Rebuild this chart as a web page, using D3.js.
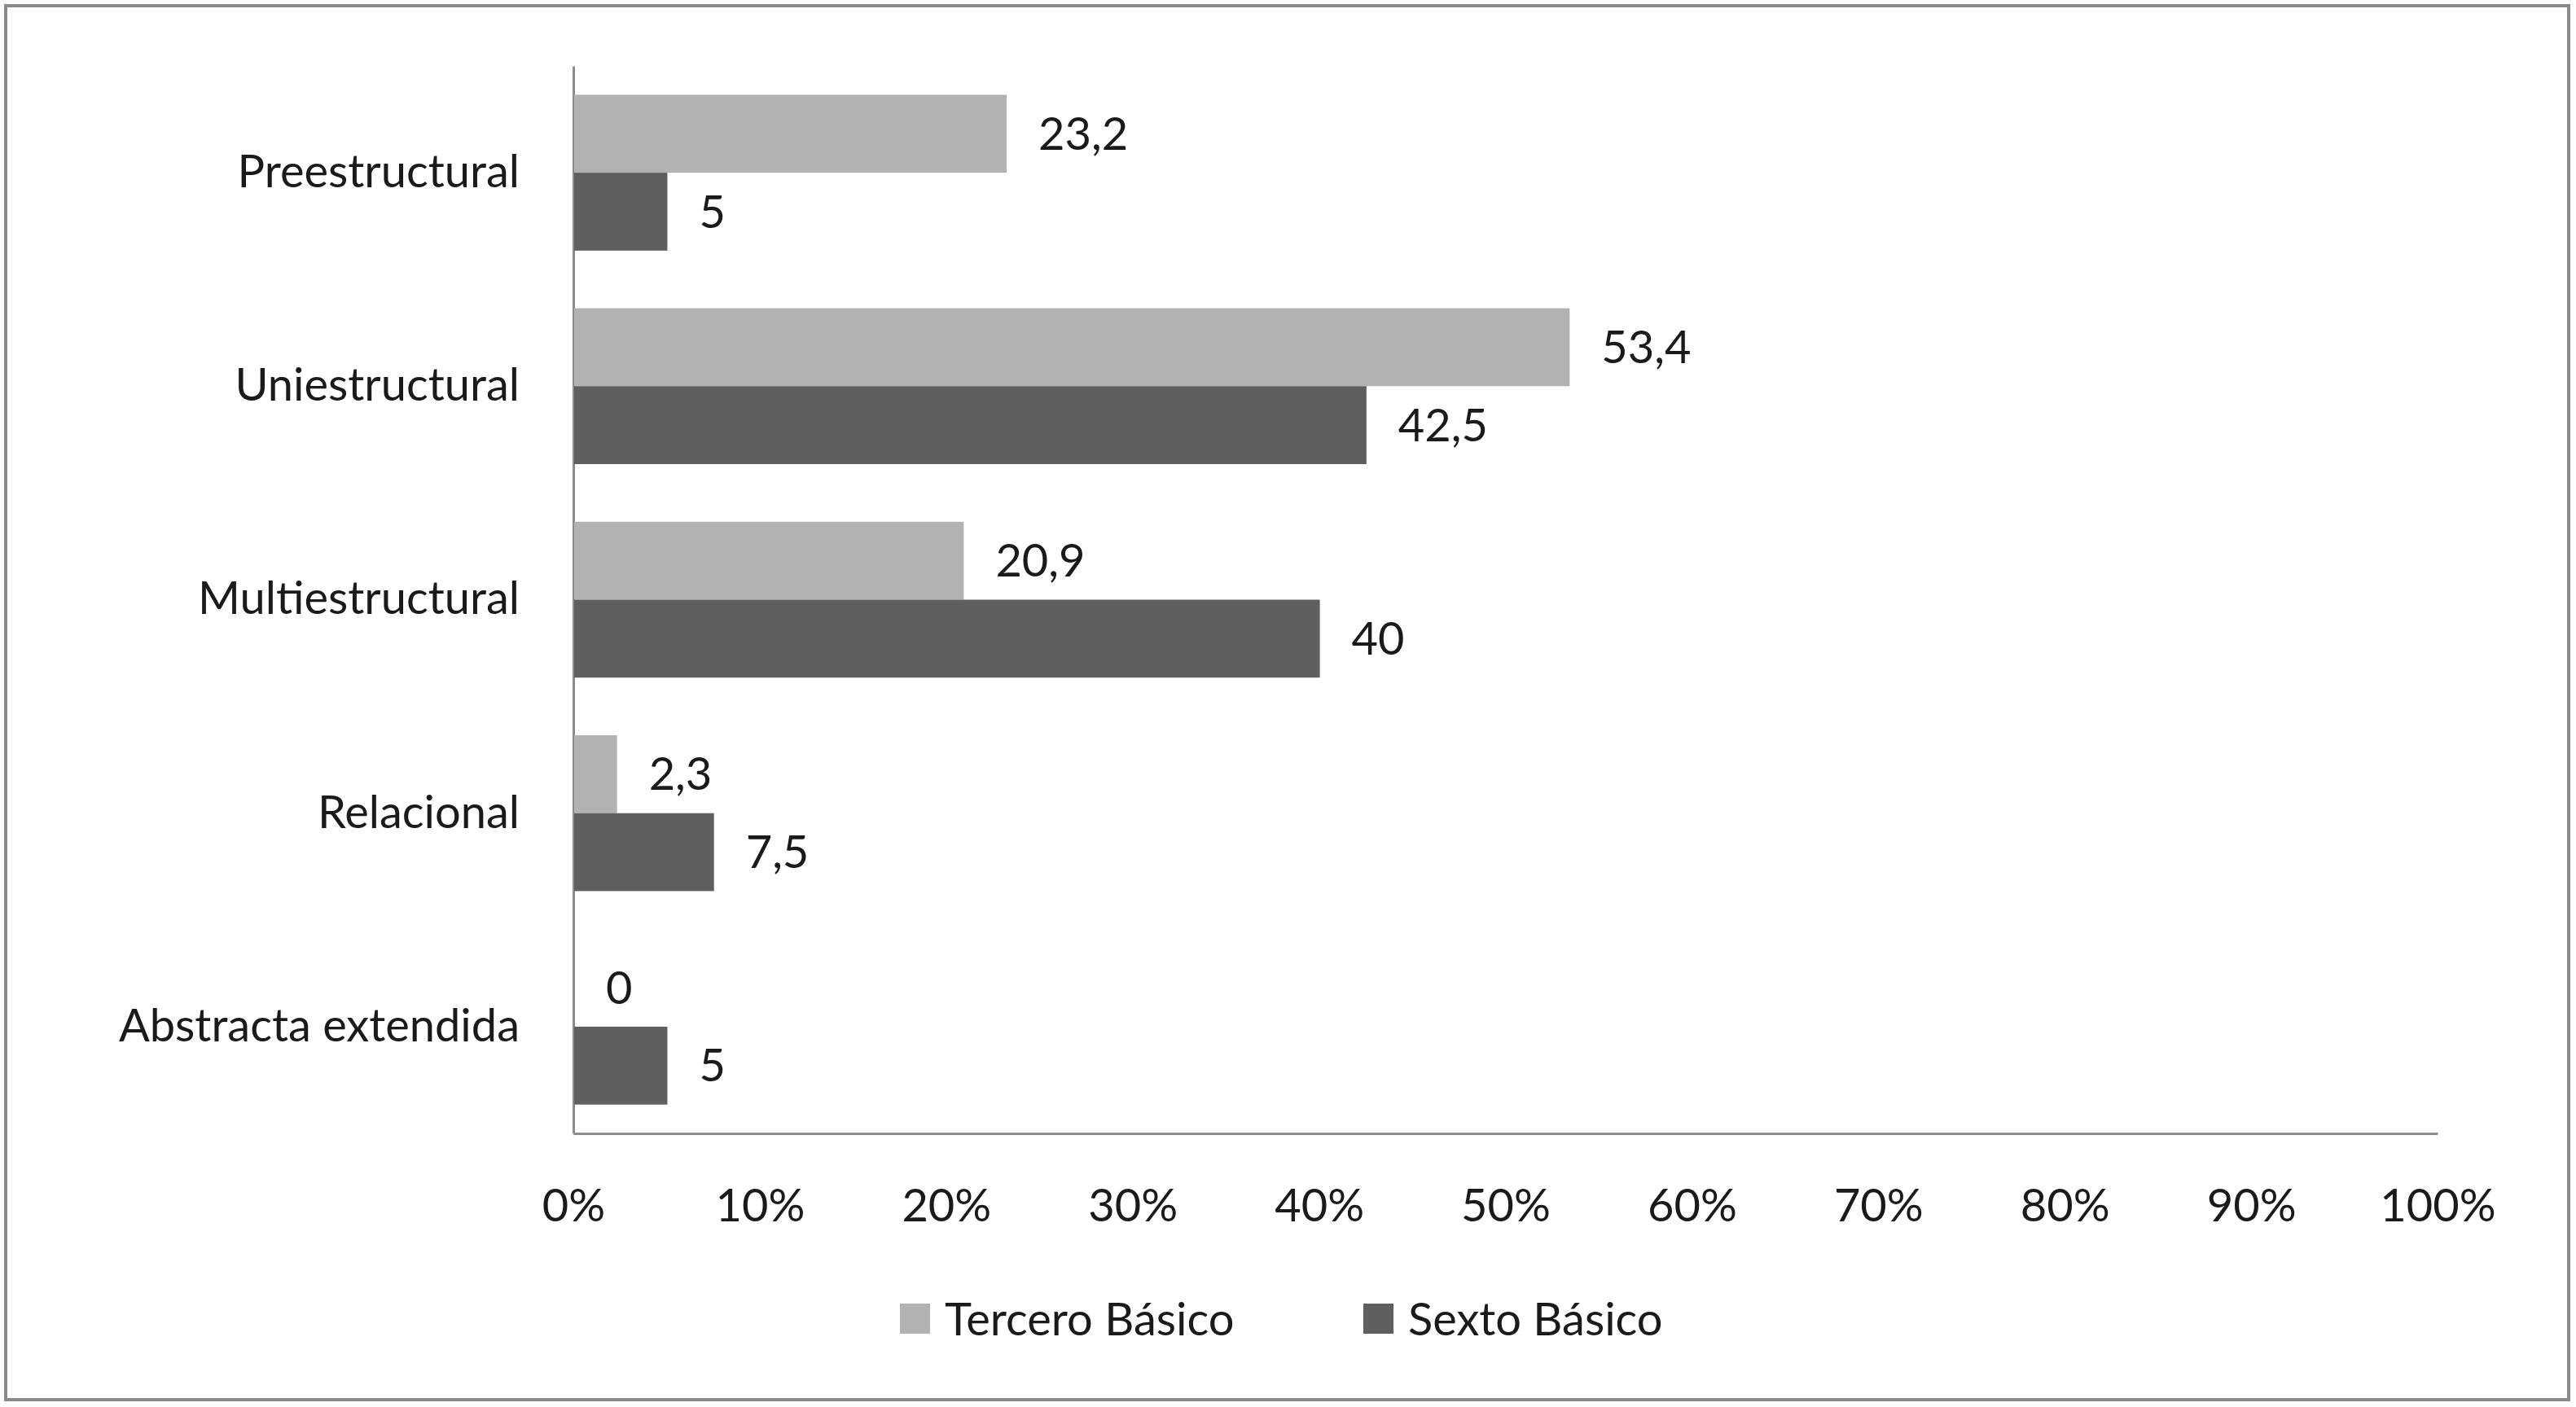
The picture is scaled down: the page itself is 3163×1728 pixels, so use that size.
<!DOCTYPE html>
<html>
<head>
<meta charset="utf-8">
<script src="https://cdn.jsdelivr.net/npm/d3@7"></script>
<style>body{margin:0;background:#fff;}</style>
</head>
<body>
<script>
const categories = ["Preestructural", "Uniestructural", "Multiestructural", "Relacional", "Abstracta extendida"];
const seriesNames = ["Tercero Básico", "Sexto Básico"];
const tercero = [23.2, 53.4, 20.9, 2.3, 0];
const sexto = [5, 42.5, 40, 7.5, 5];
const tickValues = [0, 10, 20, 30, 40, 50, 60, 70, 80, 90, 100];
const colors = ["#b2b2b2", "#5f5f5f"];

const width = 3163, height = 1728;
const margin = {top: 81, left: 704, right: 170, bottom: 336};
const font = "Lato, 'Open Sans', sans-serif";

var svg = d3.select("body").append("svg")
    .attr("width", width)
    .attr("height", height);

svg.append("rect")
    .attr("x", 7).attr("y", 7)
    .attr("width", width - 16).attr("height", height - 16)
    .attr("fill", "none").attr("stroke", "#8a8a8a").attr("stroke-width", 4);

var x = d3.scaleLinear().domain([0, 100]).range([margin.left, width - margin.right]);
var y = d3.scaleBand().domain(categories)
    .range([margin.top, height - margin.bottom])
    .paddingInner(0.27).paddingOuter(0.135);
var inner = d3.scaleBand().domain([0, 1]).range([0, y.bandwidth()]);

// axes
var xAxis = svg.append("g")
    .attr("transform", `translate(0,${height - margin.bottom})`)
    .call(d3.axisBottom(x).tickValues(tickValues).tickSize(0).tickPadding(68).tickFormat(d => d + "%"));
xAxis.select(".domain").attr("stroke", "#8c8c8c").attr("stroke-width", 3);
xAxis.selectAll("text").attr("font-size", 56).attr("font-family", font).attr("fill", "#1a1a1a");

var yAxis = svg.append("g")
    .attr("transform", `translate(${margin.left},0)`)
    .call(d3.axisLeft(y).tickSize(0).tickPadding(66));
yAxis.select(".domain").attr("stroke", "#8c8c8c").attr("stroke-width", 3);
yAxis.selectAll("text").attr("font-size", 56).attr("font-family", font).attr("fill", "#1a1a1a");

[tercero, sexto].forEach((vals, s) => {
    var g = svg.append("g");
    g.selectAll("rect").data(vals).enter().append("rect")
        .attr("x", x(0) + 1)
        .attr("y", (d, i) => y(categories[i]) + inner(s))
        .attr("width", d => x(d) - x(0))
        .attr("height", inner.bandwidth())
        .attr("fill", colors[s]);
    g.selectAll("text").data(vals).enter().append("text")
        .attr("x", d => x(d) + 40)
        .attr("y", (d, i) => y(categories[i]) + inner(s) + inner.bandwidth() / 2)
        .attr("dy", "0.35em")
        .attr("font-size", 56).attr("font-family", font).attr("fill", "#1a1a1a")
        .text(d => String(d).replace(".", ","));
});

// legend
var legendX = [1105, 1674];
seriesNames.forEach((name, i) => {
    svg.append("rect")
        .attr("x", legendX[i]).attr("y", 1601)
        .attr("width", 37).attr("height", 37)
        .attr("fill", colors[i]);
    svg.append("text")
        .attr("x", legendX[i] + 55).attr("y", 1620)
        .attr("dy", "0.35em")
        .attr("font-size", 56).attr("font-family", font).attr("fill", "#1a1a1a")
        .text(name);
});
</script>
</body>
</html>
